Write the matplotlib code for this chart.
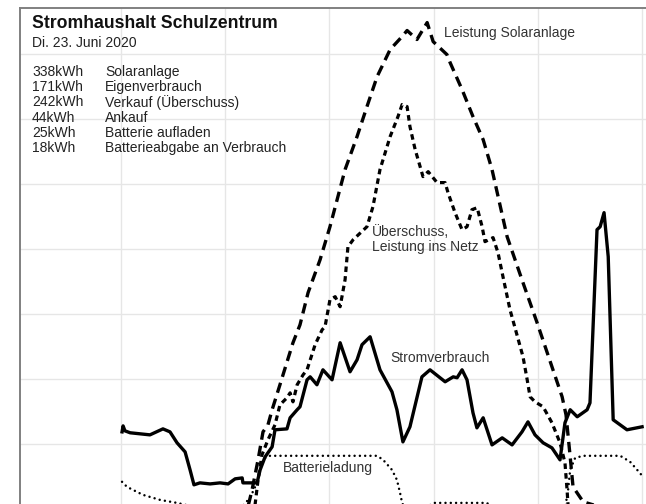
import numpy as np
import matplotlib
matplotlib.use("Agg")
import matplotlib.pyplot as plt

plt.rcParams["font.family"] = ["Liberation Sans", "DejaVu Sans"]
plt.rcParams["lines.scale_dashes"] = False

# ----------------- Data (hours, kW) -----------------
verbrauch_t = [4.04, 4.08, 4.15, 4.35, 5.11, 5.61, 5.88, 6.15, 6.46, 6.65, 6.80, 7.03, 7.42, 7.80,
               8.11, 8.38, 8.65, 8.68, 9.22, 9.34, 9.53, 9.80, 9.91, 10.37, 10.49, 10.76, 10.87,
               11.14, 11.26, 11.52, 11.75, 12.10, 12.41, 12.79, 13.06, 13.25, 13.56, 13.94, 14.40,
               14.59, 14.82, 15.09, 15.55, 15.86, 16.44, 16.75, 16.90, 17.09, 17.28, 17.51, 17.66,
               17.90, 18.24, 18.63, 19.01, 19.39, 19.62, 19.89, 20.20, 20.54, 20.85, 21.04, 21.24,
               21.51, 21.89, 22.00, 22.27, 22.39, 22.54, 22.70, 22.89, 23.42, 24.00]
verbrauch_kw = [5.92, 6.38, 6.00, 5.85, 5.69, 6.15, 5.92, 5.08, 4.38, 3.00, 1.85, 2.00, 1.92, 2.00,
                1.92, 2.31, 2.38, 2.00, 2.00, 3.00, 4.00, 4.77, 6.08, 6.15, 7.00, 7.62, 7.85,
                9.92, 10.15, 9.54, 10.69, 9.92, 12.77, 10.54, 11.46, 12.62, 13.23, 10.69, 9.00,
                7.62, 5.15, 6.31, 10.15, 10.69, 9.77, 10.15, 10.08, 10.69, 9.92, 7.38, 6.23,
                7.00, 4.92, 5.46, 4.92, 5.92, 6.69, 5.69, 5.08, 4.69, 3.77, 6.62, 7.62,
                7.08, 7.62, 8.15, 21.46, 21.69, 22.77, 19.38, 6.85, 6.08, 6.31]

solar_t = [6.0, 8.0, 8.70, 8.88, 9.03, 9.26, 9.45, 9.64, 9.80, 10.10, 10.60, 10.87, 11.18, 11.64,
           12.02, 12.60, 13.06, 13.44, 13.83, 14.33, 14.79, 14.98, 15.36, 15.75, 15.98, 16.51,
           16.63, 17.09, 17.51, 17.90, 18.24, 18.82, 19.43, 19.97, 20.58, 20.93, 21.08, 21.24,
           21.35, 21.74, 22.39, 23.16, 24.0]
solar_kw = [0.0, 0.0, 0.0, 0.23, 1.46, 3.77, 5.92, 6.46, 7.62, 9.54, 12.77, 14.15, 16.62, 19.15,
            21.69, 26.08, 28.62, 30.92, 33.23, 35.31, 36.31, 36.77, 36.08, 37.38, 35.92, 34.92,
            34.31, 32.23, 30.15, 28.38, 26.08, 20.92, 17.38, 14.31, 10.69, 8.62, 7.23, 4.00,
            1.69, 0.54, 0.15, 0.0, 0.0]

netz_t = [9.14, 9.26, 9.41, 9.64, 9.91, 10.10, 10.37, 10.49, 10.60, 10.76, 10.99, 11.14, 11.45,
          11.72, 11.83, 12.02, 12.22, 12.41, 12.60, 12.71, 12.91, 13.44, 13.67, 13.94, 14.33,
          14.63, 14.79, 14.98, 15.09, 15.29, 15.48, 15.59, 15.79, 16.13, 16.44, 16.55, 16.82,
          17.09, 17.28, 17.47, 17.67, 17.86, 17.97, 18.28, 18.47, 18.66, 18.93, 19.43, 19.59,
          19.70, 19.89, 20.20, 20.54, 20.85, 21.04, 21.12, 21.16, 21.43]
netz_kw = [0.23, 2.23, 4.15, 5.31, 6.46, 8.00, 8.54, 8.92, 8.23, 9.54, 10.31, 10.69, 12.62,
           13.77, 14.00, 16.08, 16.31, 15.54, 17.62, 20.15, 20.69, 21.69, 23.23, 26.08, 28.62,
           30.15, 31.08, 30.92, 29.38, 27.62, 26.31, 25.54, 25.92, 25.08, 25.08, 24.31, 22.77,
           21.46, 21.69, 23.00, 23.15, 21.69, 20.54, 20.85, 19.69, 17.85, 15.31, 11.69, 9.92,
           8.62, 8.23, 7.85, 6.62, 5.08, 3.54, 1.46, 0.23, 0.0]

batterie_t = [4.04, 4.23, 4.84, 5.50, 6.15, 6.65, 7.22, 8.57, 8.95, 9.22, 9.41, 9.57, 9.72, 13.83,
              14.06, 14.40, 14.59, 14.71, 14.79, 14.90, 15.67, 15.98, 18.05, 18.24, 21.04, 21.16,
              21.24, 21.43, 21.74, 23.16, 23.54, 23.81, 24.04]
batterie_kw = [2.08, 1.69, 1.08, 0.69, 0.46, 0.23, 0.0, 0.0, 0.85, 2.00, 3.62, 4.00, 4.08, 4.08,
               3.77, 3.00, 2.23, 1.23, 0.46, 0.0, 0.0, 0.46, 0.46, 0.0, 0.0, 1.46,
               3.00, 3.92, 4.08, 4.08, 3.62, 3.00, 2.46]

summen = ["338kWh", "171kWh", "242kWh", "44kWh", "25kWh", "18kWh"]
summen_labels = ["Solaranlage", "Eigenverbrauch", "Verkauf (Überschuss)", "Ankauf",
                 "Batterie aufladen", "Batterieabgabe an Verbrauch"]

# ----------------- Plot -----------------
W, H = 646, 504
PX_PER_KW = 13.01
Y_MIN, Y_MAX = -2.0, 38.5
ax_h = (Y_MAX - Y_MIN) * PX_PER_KW      # axes runs below the figure edge (cropped view)
fig = plt.figure(figsize=(W / 100, H / 100), dpi=100)
ax = fig.add_axes([20 / W, (H - 8 - ax_h) / H, 626 / W, ax_h / H])

ax.plot(solar_t, solar_kw, color="black", lw=2.4, linestyle=(0, (7.5, 4.5)))
ax.plot(netz_t, netz_kw, color="black", lw=2.3, linestyle=(0, (4.0, 3.0)))
ax.plot(batterie_t, batterie_kw, color="black", lw=1.8, linestyle=(0, (0.01, 3.8)),
        dash_capstyle="round")
ax.plot(verbrauch_t, verbrauch_kw, color="black", lw=2.4, solid_joinstyle="round")

ax.set_xlim(0.123, 24.15)
ax.set_ylim(Y_MIN, Y_MAX)
ax.set_xticks(np.arange(4, 25, 4))
ax.set_yticks(np.arange(0, 40, 5))
ax.grid(True, color="#e6e6e6", lw=1)
ax.set_axisbelow(True)
ax.tick_params(length=0, labelbottom=False, labelleft=False)
for s in ["bottom", "right"]:
    ax.spines[s].set_visible(False)
for s in ["left", "top"]:
    ax.spines[s].set_color("#808080")
    ax.spines[s].set_linewidth(1.4)

# line labels
lab = dict(fontsize=10, color="#333333", va="center", ha="left")
ax.text(16.41, 36.6, "Leistung Solaranlage", **lab)
ax.text(13.63, 20.7, "Überschuss,\nLeistung ins Netz", linespacing=1.1, **lab)
ax.text(14.33, 11.6, "Stromverbrauch", **lab)
ax.text(10.22, 3.15, "Batterieladung", **lab)

# header
fig.text(32 / W, 1 - 23 / H, "Stromhaushalt Schulzentrum", fontsize=12.7,
         fontweight="bold", va="center", color="#111111")
fig.text(32 / W, 1 - 43 / H, "Di. 23. Juni 2020", fontsize=10, va="center", color="#222222")
for i, (v, l) in enumerate(zip(summen, summen_labels)):
    y = 1 - (72 + i * 15.2) / H
    fig.text(32 / W, y, v, fontsize=10, va="center", color="#222222")
    fig.text(105 / W, y, l, fontsize=10, va="center", color="#222222")

fig.savefig("out.png", dpi=100)
plt.close(fig)
